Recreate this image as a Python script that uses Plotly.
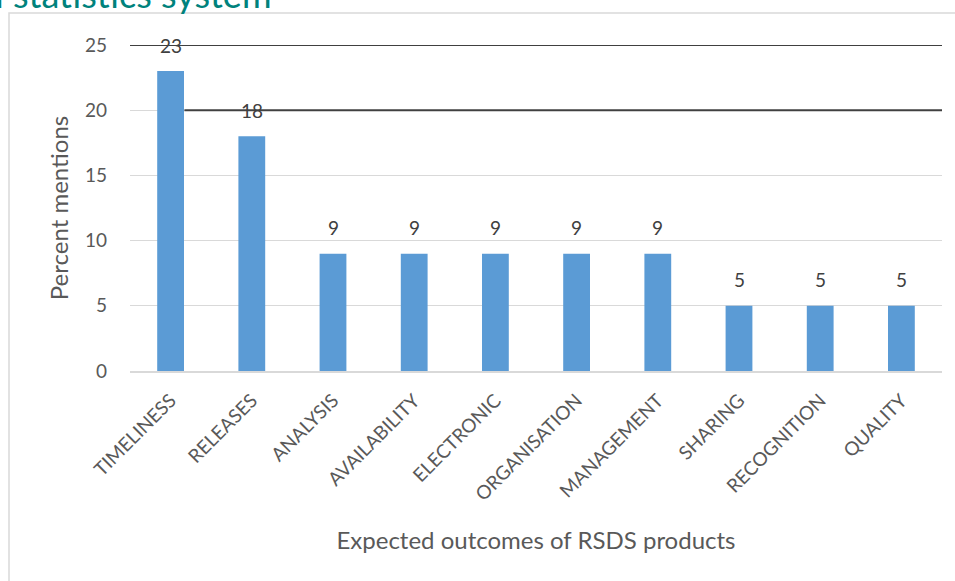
import plotly.graph_objects as go

# Expected outcomes of RSDS products, percent of mentions
categories = ["TIMELINESS", "RELEASES", "ANALYSIS", "AVAILABILITY", "ELECTRONIC",
              "ORGANISATION", "MANAGEMENT", "SHARING", "RECOGNITION", "QUALITY"]
percent = [23, 18, 9, 9, 9, 9, 9, 5, 5, 5]
y_ticks = [0, 5, 10, 15, 20, 25]

FONT = "Lato, Liberation Sans, sans-serif"
BAR = "#5B9BD5"
GREY_TXT = "#595959"
GRID = "#D9D9D9"
DARK = "#404040"

fig = go.Figure()
fig.add_trace(go.Bar(
    x=categories, y=percent,
    marker=dict(color=BAR, line=dict(width=0)),
    hoverinfo="x+y",
))

# value labels above each bar
annotations = [
    dict(x=c, y=v, text=str(v), showarrow=False, xref="x", yref="y",
         yanchor="middle", yshift=26, font=dict(family=FONT, size=19, color=DARK))
    for c, v in zip(categories, percent)
]

# title line running above the chart frame
annotations.append(dict(
    text="National statistics system", xref="paper", yref="paper",
    x=(274 - 130) / 812, y=(371 - 18) / 326, xanchor="right", yanchor="bottom",
    showarrow=False, font=dict(family=FONT, size=36, color="#00827C"),
))

shapes = [
    # outer chart frame
    dict(type="rect", xref="paper", yref="paper",
         x0=(9 - 130) / 812, x1=(960 - 130) / 812,
         y0=(371 - 600) / 326, y1=(371 - 13) / 326,
         line=dict(color=GRID, width=1.5), fillcolor="rgba(0,0,0,0)", layer="below"),
    # dark reference lines
    dict(type="line", xref="paper", yref="y", x0=0, x1=1, y0=25, y1=25,
         line=dict(color=DARK, width=2), layer="above"),
    dict(type="line", xref="x", yref="y", x0=0.17, x1=9.5, y0=20, y1=20,
         line=dict(color=DARK, width=2), layer="above"),
]

fig.update_layout(
    width=955, height=581,
    margin=dict(l=130, r=13, t=45, b=210),
    paper_bgcolor="white", plot_bgcolor="white",
    bargap=0.67,
    showlegend=False,
    font=dict(family=FONT, color=GREY_TXT),
    annotations=annotations,
    shapes=shapes,
    xaxis=dict(
        tickangle=-45,
        tickfont=dict(family=FONT, size=19, color=GREY_TXT),
        showgrid=False,
        showline=True, linecolor=GRID, linewidth=2,
        ticks="", range=[-0.5, 9.5],
        ticklabelstandoff=9,
        title=dict(text="Expected outcomes of RSDS products",
                   font=dict(family=FONT, size=24, color=GREY_TXT), standoff=28),
    ),
    yaxis=dict(
        range=[0, 25], tickvals=y_ticks,
        tickfont=dict(family=FONT, size=19, color=GREY_TXT),
        showgrid=True, gridcolor=GRID, gridwidth=1.3,
        zeroline=False, showline=False, ticks="",
        ticklabelstandoff=22,
        title=dict(text="Percent mentions",
                   font=dict(family=FONT, size=24, color=GREY_TXT), standoff=9),
    ),
)

fig.write_html("out.html")
